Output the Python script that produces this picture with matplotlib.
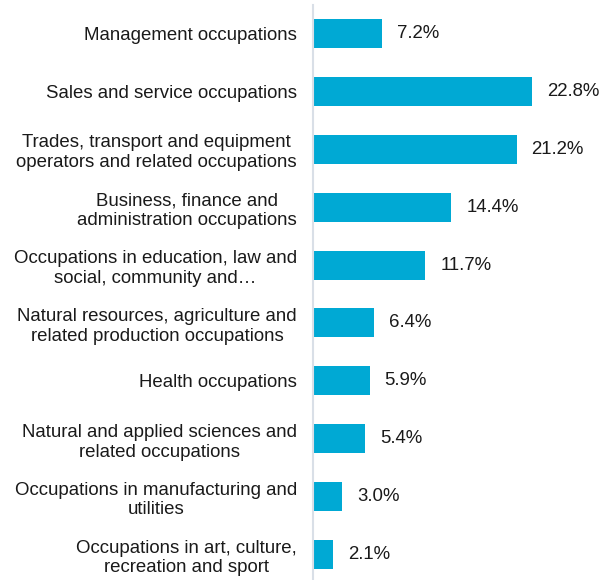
import matplotlib.pyplot as plt

categories = [
    "Management occupations",
    "Sales and service occupations",
    "Trades, transport and equipment\noperators and related occupations",
    "Business, finance and\nadministration occupations",
    "Occupations in education, law and\nsocial, community and\u2026",
    "Natural resources, agriculture and\nrelated production occupations",
    "Health occupations",
    "Natural and applied sciences and\nrelated occupations",
    "Occupations in manufacturing and\nutilities",
    "Occupations in art, culture,\nrecreation and sport",
]
shares = [7.2, 22.8, 21.2, 14.4, 11.7, 6.4, 5.9, 5.4, 3.0, 2.1]

BAR_COLOR = "#00a9d4"
TEXT_COLOR = "#1a1a1a"
FS = 13.4
plt.rcParams["font.family"] = ["Liberation Sans", "DejaVu Sans"]

fig = plt.figure(figsize=(6.13, 5.8), dpi=100)
ax = fig.add_axes([313 / 613, 0.0, 1 - 313 / 613, 575 / 580])

pos = list(range(len(categories)))
ax.barh(pos, shares, height=0.5, color=BAR_COLOR)

# value labels just past the bar ends
for y, v in zip(pos, shares):
    ax.annotate(f"{v:.1f}%", xy=(v, y), xytext=(15, 0), textcoords="offset pixels",
                ha="left", va="center", fontsize=FS, color=TEXT_COLOR)

ax.set_xlim(0, 31.25)
ax.set_ylim(9.44, -0.492)
ax.set_yticks(pos)
ax.set_yticklabels(categories, fontsize=FS, color=TEXT_COLOR)
for lbl in ax.get_yticklabels():
    lbl.set_multialignment("center")
    lbl.set_linespacing(1.22)
ax.tick_params(axis="y", length=0, pad=11.5)
ax.set_xticks([])

for side in ["top", "right", "bottom"]:
    ax.spines[side].set_visible(False)
ax.spines["left"].set_color("#d9dfe7")
ax.spines["left"].set_linewidth(1.5)

fig.savefig("out.png", dpi=100)
